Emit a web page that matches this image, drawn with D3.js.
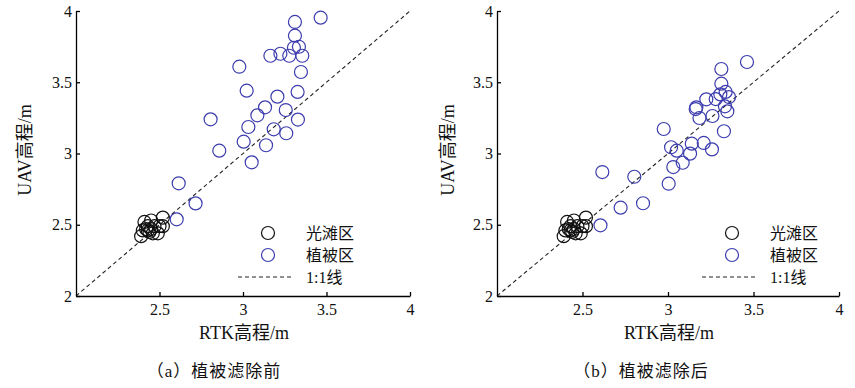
<!DOCTYPE html>
<html>
<head>
<meta charset="utf-8">
<script src="https://cdn.jsdelivr.net/npm/d3@7"></script>
<style>
  body { margin: 0; background: #fff; }
  svg { display: block; font-family: "Liberation Serif", "Noto Sans CJK SC", serif; }
  .axis path, .axis line { stroke: #000; stroke-width: 1.3; }
  .axis text { font-size: 16px; fill: #111; font-family: "Liberation Serif", serif; }
</style>
</head>
<body>
<div class="chart"></div>
<script>
"use strict";

// bare beach points (same in both panels)
const bareX = [2.41, 2.45, 2.52, 2.39, 2.40, 2.43, 2.44, 2.47, 2.50, 2.49, 2.46, 2.52, 2.43, 2.42, 2.45];
const bareY = [2.52, 2.53, 2.55, 2.42, 2.46, 2.46, 2.45, 2.49, 2.49, 2.44, 2.44, 2.49, 2.49, 2.47, 2.47];

// vegetation points before filtering
const vegBeforeX = [3.465, 3.311, 3.311, 3.305, 3.335, 3.164, 3.224, 3.277, 3.355, 2.978, 3.347, 3.022, 3.327, 3.206, 3.132,
  3.256, 3.086, 2.806, 3.329, 3.032, 3.184, 3.259, 3.004, 3.138, 2.858, 3.052, 2.615, 2.716, 2.603];
const vegBeforeY = [3.953, 3.923, 3.827, 3.742, 3.749, 3.686, 3.700, 3.686, 3.686, 3.609, 3.572, 3.441, 3.432, 3.399, 3.324,
  3.305, 3.268, 3.240, 3.238, 3.186, 3.170, 3.142, 3.083, 3.058, 3.020, 2.938, 2.791, 2.650, 2.538];

// vegetation points after filtering
const vegAfterX = [3.462, 3.312, 3.312, 3.306, 3.337, 3.357, 3.224, 3.279, 3.333, 3.347, 3.166, 3.162, 3.184, 3.260, 2.975,
  3.327, 3.018, 3.051, 3.139, 3.209, 3.257, 3.129, 3.086, 3.031, 3.004, 2.803, 2.616, 2.854, 2.723, 2.605];
const vegAfterY = [3.642, 3.593, 3.490, 3.415, 3.432, 3.396, 3.380, 3.382, 3.331, 3.296, 3.324, 3.312, 3.249, 3.263, 3.172,
  3.156, 3.044, 3.020, 3.069, 3.074, 3.029, 2.999, 2.935, 2.905, 2.788, 2.837, 2.870, 2.651, 2.620, 2.496];

const xTicks = [2.5, 3, 3.5, 4];
const yTicks = [2, 2.5, 3, 3.5, 4];
const legendLabels = ["光滩区", "植被区", "1:1线"];
const captions = ["（a）植被滤除前", "（b）植被滤除后"];

const width = 855;
const height = 388;
const blue = "#3c3cae";

const svg = d3.select(".chart").append("svg").attr("width", width).attr("height", height);

const zip = (xs, ys) => xs.map((x, i) => ({ x: x, y: ys[i] }));

const renderPanel = (opt) => {
  const x = d3.scaleLinear().domain([2, 4]).range([opt.x0, opt.x1]);
  const y = d3.scaleLinear().domain([2, 4]).range([296, 11]);
  const g = svg.append("g");

  // 1:1 line
  g.append("line")
    .attr("x1", x(2)).attr("y1", y(2))
    .attr("x2", x(4)).attr("y2", y(4))
    .attr("stroke", "#222").attr("stroke-width", 1.1)
    .attr("stroke-dasharray", "4,3");

  g.append("g").attr("class", "axis")
    .attr("transform", `translate(0,${y(2)})`)
    .call(d3.axisBottom(x).tickValues(xTicks).tickSizeInner(-4).tickSizeOuter(0).tickPadding(8).tickFormat(d3.format("")));

  g.append("g").attr("class", "axis")
    .attr("transform", `translate(${x(2)},0)`)
    .call(d3.axisLeft(y).tickValues(yTicks).tickSizeInner(-4).tickSizeOuter(0).tickPadding(4).tickFormat(d3.format("")));

  g.selectAll(".bare")
    .data(zip(bareX, bareY))
    .enter()
    .append("circle")
    .attr("cx", (d) => x(d.x))
    .attr("cy", (d) => y(d.y))
    .attr("r", 6.5)
    .attr("fill", "none")
    .attr("stroke", "#111")
    .attr("stroke-width", 1.2);

  g.selectAll(".veg")
    .data(zip(opt.vx, opt.vy))
    .enter()
    .append("circle")
    .attr("cx", (d) => x(d.x))
    .attr("cy", (d) => y(d.y))
    .attr("r", 6.5)
    .attr("fill", "none")
    .attr("stroke", blue)
    .attr("stroke-width", 1.2);

  // legend
  const lx = opt.legendX;
  g.append("circle").attr("cx", lx + 30).attr("cy", 233).attr("r", 6.5)
    .attr("fill", "none").attr("stroke", "#111").attr("stroke-width", 1.2);
  g.append("circle").attr("cx", lx + 30).attr("cy", 255).attr("r", 6.5)
    .attr("fill", "none").attr("stroke", blue).attr("stroke-width", 1.2);
  g.append("line").attr("x1", lx).attr("x2", lx + 53).attr("y1", 277).attr("y2", 277)
    .attr("stroke", "#222").attr("stroke-width", 1.1).attr("stroke-dasharray", "4,3");
  g.selectAll(".leg")
    .data(legendLabels)
    .enter()
    .append("text")
    .attr("x", lx + 68)
    .attr("y", (d, i) => 239 + i * 22)
    .style("font-size", "16px")
    .style("fill", "#111")
    .text((d) => d);

  // axis titles
  g.append("text")
    .attr("x", (opt.x0 + opt.x1) / 2 + 1)
    .attr("y", 339)
    .attr("text-anchor", "middle")
    .style("font-size", "18px")
    .style("fill", "#111")
    .text("RTK高程/m");

  g.append("text")
    .attr("transform", `translate(${opt.yLabelX},150) rotate(-90)`)
    .attr("text-anchor", "middle")
    .style("font-size", "18px")
    .style("fill", "#111")
    .text("UAV高程/m");

  g.append("text")
    .attr("x", opt.captionX)
    .attr("y", 377)
    .attr("text-anchor", "middle")
    .style("font-size", "17px")
    .style("letter-spacing", "1px")
    .style("fill", "#111")
    .text(opt.caption);
};

renderPanel({ x0: 76, x1: 410, vx: vegBeforeX, vy: vegBeforeY, legendX: 238, yLabelX: 31, captionX: 214, caption: captions[0] });
renderPanel({ x0: 497, x1: 839, vx: vegAfterX, vy: vegAfterY, legendX: 702, yLabelX: 454, captionX: 641, caption: captions[1] });
</script>
</body>
</html>
